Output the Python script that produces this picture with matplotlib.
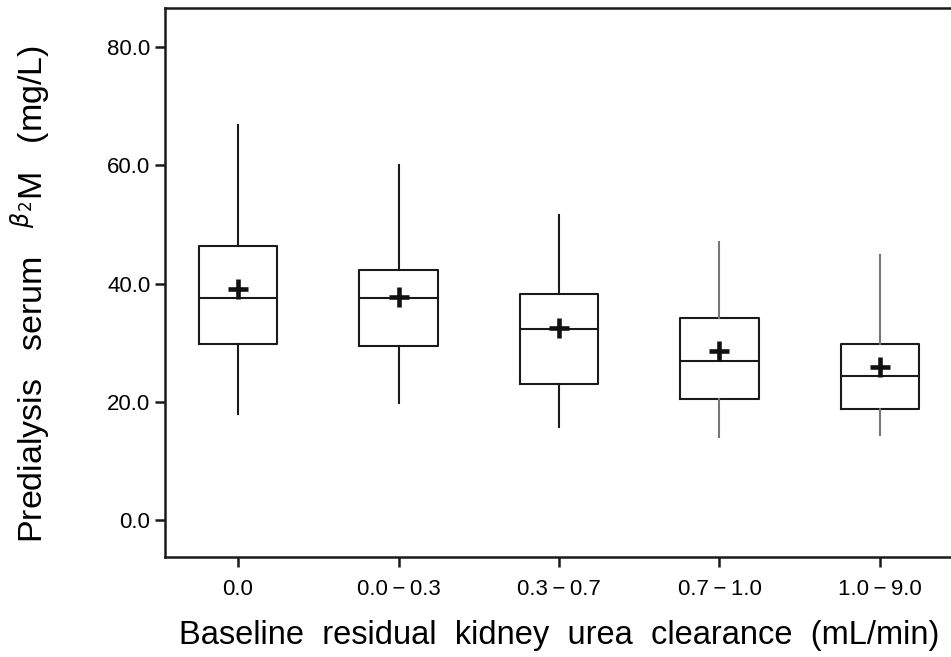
import matplotlib
matplotlib.use("Agg")
import matplotlib.pyplot as plt

# groups of baseline residual kidney urea clearance
groups = ["0.0", "0.0\u2009\u2212\u20090.3", "0.3\u2009\u2212\u20090.7",
          "0.7\u2009\u2212\u20091.0", "1.0\u2009\u2212\u20099.0"]

# box statistics (mg/L)
whislo = [17.9, 19.8, 15.7, 14.0, 14.4]
q1 = [29.8, 29.4, 23.0, 20.5, 18.8]
med = [37.5, 37.5, 32.3, 26.9, 24.3]
q3 = [46.3, 42.3, 38.2, 34.2, 29.8]
whishi = [66.8, 60.0, 51.6, 47.0, 44.8]
means = [39.0, 37.8, 32.5, 28.6, 25.9]

plt.rcParams["font.family"] = ["Liberation Sans", "DejaVu Sans"]

fig = plt.figure(figsize=(9.51, 6.57), dpi=100)
ax = fig.add_axes([165 / 951, 1 - 557 / 657, (953 - 165) / 951, (557 - 8) / 657])

stats = []
for i in range(len(groups)):
    stats.append(dict(label=groups[i], whislo=whislo[i], q1=q1[i], med=med[i],
                      q3=q3[i], whishi=whishi[i], mean=means[i], fliers=[]))

line_kw = dict(color="#1a1a1a", linewidth=1.5)
bp = ax.bxp(stats, positions=range(len(groups)), widths=0.49, showmeans=True,
            showcaps=False, boxprops=line_kw, whiskerprops=line_kw,
            medianprops=line_kw,
            meanprops=dict(marker="+", markersize=14, markeredgewidth=3.3,
                           markeredgecolor="#111111"))
# last two groups have lighter whiskers in the original
for w in bp["whiskers"][6:]:
    w.set_color("#777777")

ax.set_xlim(-0.455, 4.455)
ax.set_ylim(-6.25, 86.6)
ax.set_yticks([0, 20, 40, 60, 80])
ax.set_yticklabels(["0.0", "20.0", "40.0", "60.0", "80.0"])
ax.set_xticks(range(len(groups)))
ax.set_xticklabels(groups)

for s in ax.spines.values():
    s.set_linewidth(1.8)
    s.set_color("#1a1a1a")
ax.tick_params(direction="out", length=7, width=1.8, labelsize=16, color="#1a1a1a")
ax.tick_params(axis="x", pad=9)

ax.set_xlabel("Baseline  residual  kidney  urea  clearance  (mL/min)",
              fontsize=23.5, labelpad=14)
ax.set_ylabel(r"Predialysis   serum   $^{\beta_2}$M   (mg/L)", fontsize=24.5)
ax.yaxis.set_label_coords(-0.142, 0.479)

fig.savefig("out.png", dpi=100)
